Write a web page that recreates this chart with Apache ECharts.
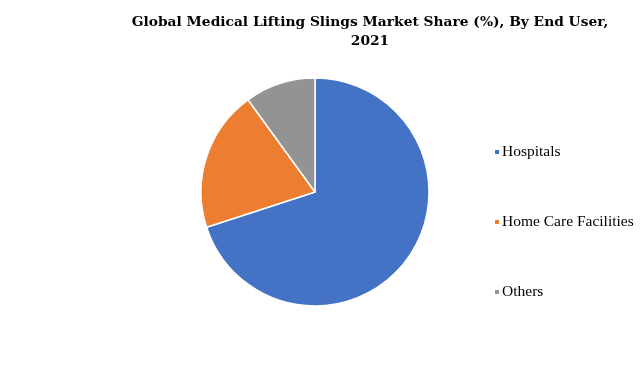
<!DOCTYPE html>
<html><head><meta charset="utf-8">
<script src="https://cdn.jsdelivr.net/npm/echarts@6/dist/echarts.min.js"></script>
<style>html,body{margin:0;padding:0;background:#fff}#c{width:643px;height:388px}</style>
</head><body><div id="c"></div>
<script>
var categories = ["Hospitals", "Home Care Facilities", "Others"];
var values = [70, 20, 10];
var colors = ["#4472C4", "#ED7D31", "#939393"];
var titleText = "Global Medical Lifting Slings Market Share (%), By End User,\n2021";

var chart = echarts.init(document.getElementById('c'));
chart.setOption({
  animation: false,
  title: {
    text: titleText,
    left: 365, top: 8, textAlign: 'center',
    textStyle: {fontFamily: 'DejaVu Serif', fontWeight: 'bold', fontSize: 13.8, color: '#000', lineHeight: 19}
  },
  legend: {
    orient: 'vertical', left: 488, top: 139,
    itemWidth: 6, itemHeight: 6, itemGap: 54, icon: 'rect',
    textStyle: {fontFamily: 'Liberation Serif', fontSize: 15.5, color: '#000', lineHeight: 15, padding: [0,0,0,-3]},
    data: categories
  },
  series: [{
    type: 'pie', center: [315, 192], radius: 114, startAngle: 90, clockwise: true,
    label: {show: false}, labelLine: {show: false},
    itemStyle: {borderColor: '#fff', borderWidth: 1.5},
    data: categories.map(function(n, i){ return {name: n, value: values[i], itemStyle: {color: colors[i]}}; })
  }]
});
</script></body></html>
